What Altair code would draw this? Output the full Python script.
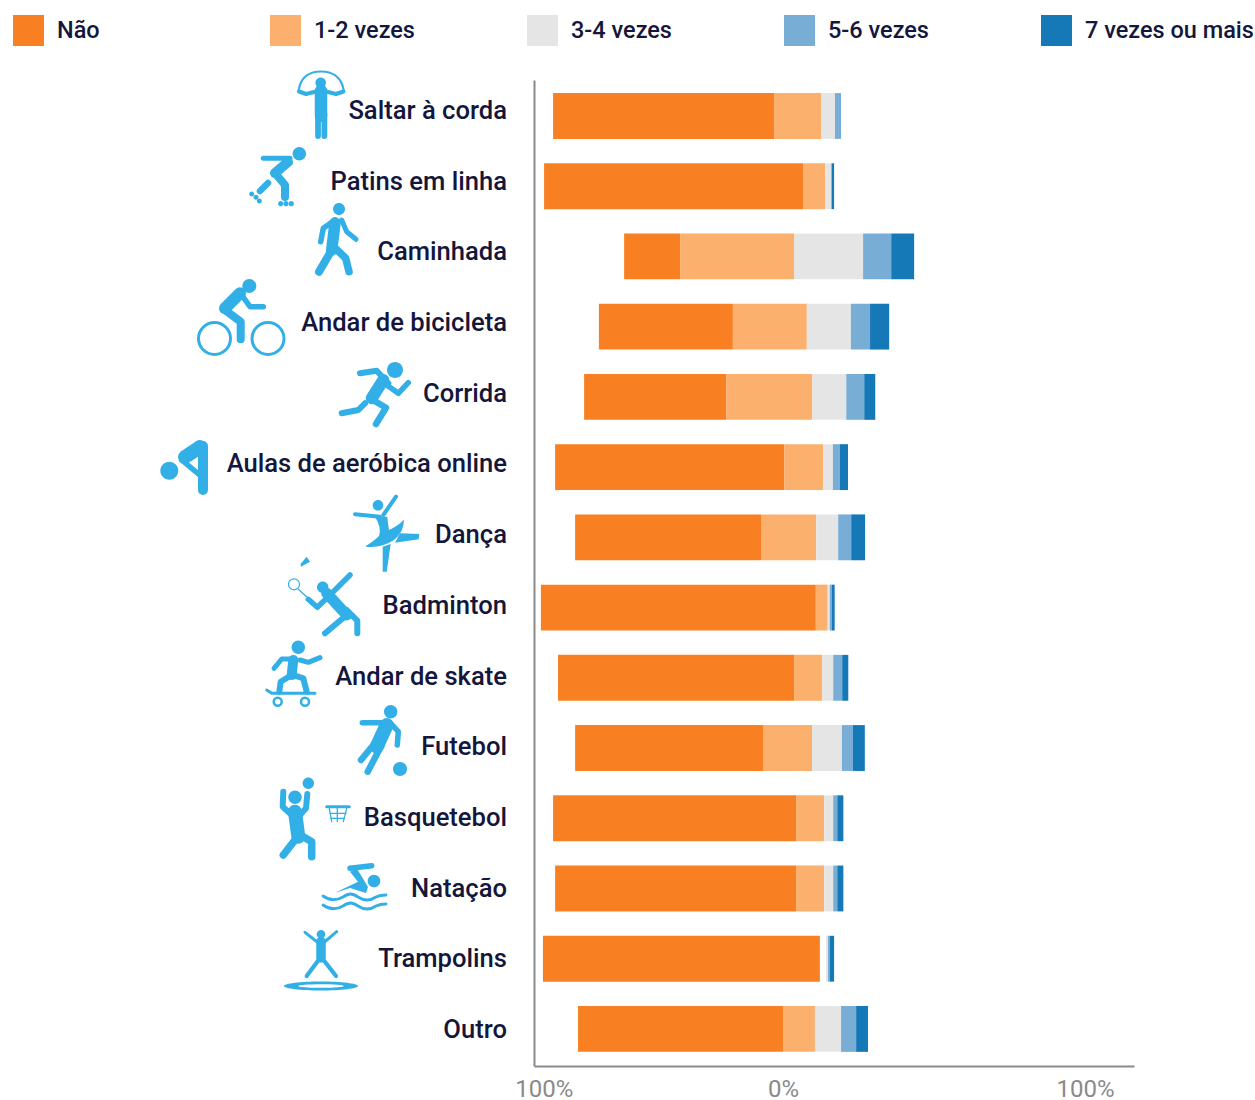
import altair as alt
import pandas as pd

# Survey rows, top to bottom
categories = ["Saltar à corda", "Patins em linha", "Caminhada", "Andar de bicicleta",
              "Corrida", "Aulas de aeróbica online", "Dança", "Badminton",
              "Andar de skate", "Futebol", "Basquetebol", "Natação", "Trampolins", "Outro"]
series = ["Não", "1-2 vezes", "3-4 vezes", "5-6 vezes", "7 vezes ou mais"]
colors = ["#F98022", "#FBB06D", "#E5E5E5", "#78AED6", "#1578B7"]

# Left end of each diverging bar, in percent from the centre line
starts = [-94.8, -97.9, -70.3, -79.0, -84.1, -94.1, -87.2, -99.0, -93.1, -87.2, -94.8, -94.1, -98.3, -86.2]

# Share of answers per series
nao = [76.2, 89.3, 19.3, 46.2, 49.0, 79.0, 64.1, 94.8, 81.4, 64.8, 83.8, 83.1, 95.5, 70.7]
vezes_1_2 = [16.2, 7.6, 39.3, 25.5, 29.7, 13.4, 19.0, 4.1, 9.7, 16.9, 9.7, 9.7, 0.0, 11.0]
vezes_3_4 = [4.8, 2.1, 23.8, 15.2, 11.7, 3.4, 7.6, 0.7, 3.8, 10.3, 3.1, 3.1, 0.7, 9.0]
vezes_5_6 = [2.1, 0.2, 9.7, 6.6, 6.2, 2.4, 4.5, 0.7, 3.1, 3.8, 1.4, 1.4, 0.7, 5.2]
vezes_7 = [0.0, 0.8, 7.9, 6.6, 3.8, 2.8, 4.8, 1.0, 2.1, 4.1, 2.1, 2.1, 1.4, 4.1]
# Unfilled stretch ahead of the neutral segment
sem_valor = [0, 0, 0, 0, 0, 0, 0, 0, 0, 0, 0, 0, 2.1, 0]

tick_values = [-98.0, -15.5, 88.6]
tick_labels = ["100%", "0%", "100%"]

FONT = "Roboto"
INK = "#14163C"
GREY = "#8A8A8A"
ICON = "#32AFE6"


def circle(cx, cy, r):
    return f"M{cx-r} {cy}A{r} {r} 0 1 1 {cx+r} {cy}A{r} {r} 0 1 1 {cx-r} {cy}Z"


def poly(*pts):
    return "M" + "L".join(f"{x} {y}" for x, y in pts) + "Z"


def line(*pts):
    return "M" + "L".join(f"{x} {y}" for x, y in pts)


# Pictograms: solid shapes, then round-capped limbs as (path, stroke width)
icon_fills = [
    circle(320.7, 82.7, 5.3),
    circle(299.3, 153.7, 6.7), circle(251.7, 194, 2.5), circle(256, 197.3, 2.5), circle(259.3, 201, 2.5),
    circle(280.7, 203.7, 2.6), circle(286, 203.7, 2.6), circle(291.3, 203.7, 2.6),
    circle(339, 209, 6),
    circle(249.3, 286, 7),
    circle(395, 370, 8),
    circle(169.3, 470.7, 9),
    circle(378, 505.3, 5.3),
    "M375 516.7L387.3 516.7Q388 524 389 530Q398 526 404 519.5Q404 532 394 540Q380 549 365 546.5"
    "Q374 541 379 536Q382 528 375 516.7Z",
    poly((400, 533.3), (419.3, 534), (418.7, 539.3), (395, 542.7)),
    poly((382.7, 546.7), (390.7, 544), (386.7, 571.7), (382.7, 571.7)),
    circle(322.7, 587.3, 5.7),
    poly((306.7, 556.7), (310, 561.7), (301, 566.7), (300.5, 564)),
    circle(298.3, 647.3, 6.7),
    circle(390.7, 711.7, 6.7), circle(400, 769, 7),
    circle(295, 797.3, 6.7), circle(308.3, 783.3, 5.7),
    circle(374, 881, 6.3),
    poly((335, 892.7), (358, 881.7), (350, 871.7), (356.7, 868.3), (368, 887), (366, 893), (350, 888)),
    circle(321, 934.3, 4.3),
    "M284 986A37 4.5 0 1 1 358 986A37 4.5 0 1 1 284 986Z"
    "M298 986A23 1.8 0 1 0 344 986A23 1.8 0 1 0 298 986Z",
]
icon_strokes = [
    # Saltar à corda
    (line((321, 91), (321, 116)), 12.5),
    (line((318, 114), (318, 136)), 5.8), (line((324.4, 114), (324.4, 136)), 5.8),
    (line((316, 91.5), (306, 94), (299, 91.5)), 4), (line((326, 91.5), (336, 94), (343.5, 91.5)), 4),
    ("M298.5 92C300 76 311 71.5 321 71.5C331 71.5 342 76 344 92", 2.2),
    # Patins em linha
    (line((263.3, 158.3), (290, 158.3)), 5), (line((288, 162), (275, 173)), 10),
    (line((275, 173), (285, 185), (285, 197)), 8), (line((268, 183), (260, 191)), 6.5),
    # Caminhada
    (line((335, 220), (323.3, 228.3), (320.7, 241.7)), 5.5), (line((341.7, 220), (346.7, 231.7), (356, 239.3)), 5),
    (line((335, 223), (331.7, 250)), 11.5), (line((330, 253), (319, 271.7)), 8),
    (line((335, 248), (345.7, 258.3), (349, 271.7)), 7.5),
    # Andar de bicicleta
    (circle(214.5, 338.5, 16), 3), (circle(268, 338.5, 16), 3),
    (line((240, 293.3), (225, 308.3)), 12), (line((241.7, 295), (250, 306.7), (263.3, 306.7)), 5.5),
    (line((225, 310), (240.7, 321.7), (240.7, 339.3)), 8),
    # Corrida
    (line((383.3, 380), (371.7, 398.3)), 12), (line((360, 373.3), (376.7, 370.7), (388.3, 383.3)), 6),
    (line((386.7, 385), (398.3, 393.3), (408.3, 382.7)), 5.5), (line((370, 398.3), (386, 407.7), (376, 424)), 6.5),
    (line((365, 403.3), (358.3, 410), (341.7, 413.3)), 6),
    # Aulas de aeróbica online
    (line((200, 447), (185, 457)), 14), (line((203, 446), (203, 490)), 10),
    (line((181.7, 460), (205, 479.3)), 5.5),
    # Dança
    (line((383.3, 515), (396, 496.7)), 4), (line((355, 514.3), (380, 516.7)), 4),
    # Badminton
    (circle(294, 584.3, 5.5), 1.2), (line((298.3, 589.3), (308.3, 598.3)), 1.3),
    (line((330, 595), (350, 575)), 5.5), (line((308.3, 599.3), (317.3, 607.3), (328.3, 596.7)), 5.5),
    (line((326.7, 593.3), (346.7, 615)), 11), (line((346.7, 615), (325, 633.3)), 6),
    (line((346.7, 610), (357.3, 620.7), (357.3, 633.3)), 6),
    # Andar de skate
    (line((274, 668.3), (281.7, 659), (293.3, 659)), 5), (line((300, 660), (308.3, 662.3), (320, 657.7)), 5),
    (line((293.3, 660), (291.7, 675)), 10), (line((291.7, 675), (280.7, 681.7), (279.3, 691.7)), 6),
    (line((293.3, 675), (303.3, 678.3), (306.7, 691.7)), 6),
    (line((266.7, 690), (271.7, 693.3), (315, 693.3)), 3),
    (circle(277.7, 701.7, 4), 2.5), (circle(305, 701.7, 4), 2.5),
    # Futebol
    (line((362.3, 722.7), (390, 722.7), (398.3, 731.7), (397.3, 745)), 5.5),
    (line((386.7, 725), (376.7, 746.7)), 14), (line((375, 743), (361, 760)), 6.5),
    (line((381.7, 745), (367.7, 771.7)), 6.5),
    # Basquetebol
    (line((283.3, 791.7), (282.7, 806.7), (291.7, 815)), 6), (line((307.3, 794), (306, 808.3), (300, 815)), 6),
    (line((295, 811.7), (298.3, 836.7)), 14), (line((295, 840), (283.3, 855)), 7.5),
    (line((303.3, 836.7), (311.7, 841.7), (311.7, 856.7)), 7.5),
    (line((326.7, 806.7), (349.3, 806.7)), 3),
    (line((329.3, 808.3), (331.7, 821.7)), 1.3), (line((346.7, 808.3), (343.3, 821.7)), 1.3),
    (line((337.3, 808.3), (337.3, 821.7)), 1.3), (line((330, 813.3), (346, 813.3)), 1.3),
    (line((331, 818.3), (344.3, 818.3)), 1.3),
    # Natação
    (line((350, 868.3), (371.7, 865.7)), 5.5),
    ("M323 896C330 901 336 901 343 897C349 893 352 893 358 897C364 901 370 901 376 897C380 895 383 895 386 895", 2.8),
    ("M323 905C330 910 336 910 343 906C349 902 352 902 358 906C364 910 370 910 376 906C380 904 383 904 386 904", 2.8),
    # Trampolins
    (line((305, 932.3), (321, 945), (336.7, 931.7)), 3), (line((321, 941.7), (321, 958)), 9.5),
    (line((321, 956.7), (306.7, 976)), 4.2), (line((321, 956.7), (336, 976)), 4.2),
]

# Stack the segments from each row's left end
rows = []
for i, cat in enumerate(categories):
    pos = starts[i]
    for name, vals, gap in zip(series,
                               [nao, vezes_1_2, vezes_3_4, vezes_5_6, vezes_7],
                               [0, 0, sem_valor[i], 0, 0]):
        pos += gap
        rows.append({"categoria": cat, "serie": name, "x0": pos, "x1": pos + vals[i]})
        pos += vals[i]
bars_df = pd.DataFrame(rows)

x_scale = alt.Scale(domain=[-101.38, 105.52], nice=False, zero=False)

bars = alt.Chart(bars_df).mark_bar(opacity=1, cornerRadius=0).encode(
    x=alt.X("x0:Q", scale=x_scale, title=None, axis=alt.Axis(
        values=tick_values, ticks=False, grid=False, domainColor=GREY, domainWidth=2,
        labelFont=FONT, labelFontSize=24, labelColor=GREY, labelPadding=11, labelFlush=False,
        labelExpr="datum.index == 0.5 ? '0%' : '100%'", labelOverlap=False)),
    x2="x1:Q",
    y=alt.Y("categoria:N", sort=categories, title=None,
            scale=alt.Scale(paddingInner=0.347, paddingOuter=0.1935, align=0.48),
            axis=alt.Axis(labels=False, ticks=False, grid=False, domainColor=GREY, domainWidth=2)),
    color=alt.Color("serie:N", title=None,
                    scale=alt.Scale(domain=series, range=colors),
                    legend=alt.Legend(orient="none", legendX=-521, legendY=-65, direction="horizontal",
                                      columns=5, gridAlign="all", columnPadding=44, padding=0,
                                      symbolType="square", symbolSize=961, symbolStrokeWidth=0,
                                      labelFont=FONT, labelFontSize=23.5, labelFontWeight=500,
                                      labelColor=INK, labelOffset=13, labelLimit=400)),
    order=alt.Order("x0:Q"),
)

labels = alt.Chart(pd.DataFrame({"categoria": categories, "ordem": list(range(len(categories)))})).mark_text(
    align="right", baseline="middle", font=FONT, fontSize=25.6, fontWeight=500, color=INK,
).encode(
    x=alt.value(-27),
    y=alt.Y("ordem:Q", axis=None, title=None,
            scale=alt.Scale(domain=[-0.438, 13.508], reverse=True, nice=False, zero=False)),
    text="categoria:N",
)

# Glyph paths use page coordinates, so the marks sit on the page origin at unit size
solid_icons = alt.Chart(pd.DataFrame({"forma": icon_fills})).mark_point(
    filled=True, color=ICON, opacity=1, strokeWidth=0,
).encode(
    x=alt.value(-534), y=alt.value(-80), size=alt.value(4),
    shape=alt.Shape("forma:N", scale=None, legend=None),
)

line_icons = alt.Chart(pd.DataFrame(icon_strokes, columns=["forma", "espessura"])).mark_point(
    filled=False, color=ICON, opacity=1, strokeCap="round", strokeJoin="round",
).encode(
    x=alt.value(-534), y=alt.value(-80), size=alt.value(4),
    shape=alt.Shape("forma:N", scale=None, legend=None),
    strokeWidth=alt.StrokeWidth("espessura:Q", scale=None, legend=None),
)

chart = alt.layer(bars, labels, solid_icons, line_icons).resolve_scale(
    y="independent", shape="independent", strokeWidth="independent",
).properties(
    width=600, height=986,
    autosize=alt.AutoSizeParams(type="none"),
    padding={"left": 534, "top": 80, "right": 121, "bottom": 34},
    background="white",
).configure_view(stroke=None)

chart.save("out.html", embed_options={"renderer": "svg", "actions": False})
